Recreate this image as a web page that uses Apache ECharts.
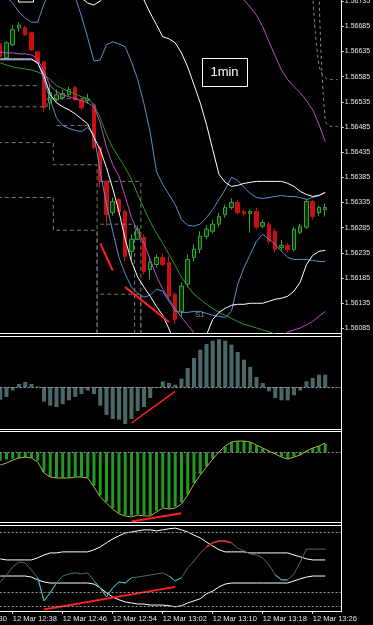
<!DOCTYPE html>
<html>
<head>
<meta charset="utf-8">
<script src="https://cdn.jsdelivr.net/npm/echarts@6/dist/echarts.min.js"></script>
<style>
html,body{margin:0;padding:0;background:#000;overflow:hidden;}
#chart{width:373px;height:625px;}
</style>
</head>
<body>
<div id="chart"></div>
<script>
// ---------- categories (1-minute bars) ----------
const times = [
"12 Mar 12:30","12 Mar 12:31","12 Mar 12:32","12 Mar 12:33","12 Mar 12:34","12 Mar 12:35","12 Mar 12:36","12 Mar 12:37","12 Mar 12:38","12 Mar 12:39",
"12 Mar 12:40","12 Mar 12:41","12 Mar 12:42","12 Mar 12:43","12 Mar 12:44","12 Mar 12:45","12 Mar 12:46","12 Mar 12:47","12 Mar 12:48","12 Mar 12:49",
"12 Mar 12:50","12 Mar 12:51","12 Mar 12:52","12 Mar 12:53","12 Mar 12:54","12 Mar 12:55","12 Mar 12:56","12 Mar 12:57","12 Mar 12:58","12 Mar 12:59",
"12 Mar 13:00","12 Mar 13:01","12 Mar 13:02","12 Mar 13:03","12 Mar 13:04","12 Mar 13:05","12 Mar 13:06","12 Mar 13:07","12 Mar 13:08","12 Mar 13:09",
"12 Mar 13:10","12 Mar 13:11","12 Mar 13:12","12 Mar 13:13","12 Mar 13:14","12 Mar 13:15","12 Mar 13:16","12 Mar 13:17","12 Mar 13:18","12 Mar 13:19",
"12 Mar 13:20","12 Mar 13:21","12 Mar 13:22","12 Mar 13:23","12 Mar 13:24","12 Mar 13:25","12 Mar 13:26","12 Mar 13:27","12 Mar 13:28","12 Mar 13:29",
"12 Mar 13:30"];
const firstBar = "12 Mar 12:36";   // first candle on screen; bars run to 13:28

// ---------- main price panel ----------
const priceTicks = [1.56735,1.56685,1.56635,1.56585,1.56535,1.56485,1.56435,1.56385,1.56335,1.56285,1.56235,1.56185,1.56135,1.56085];
// [open, high, low, close]
const candles = [
[1.56650,1.56654,1.56622,1.56624],[1.56622,1.56655,1.56620,1.56652],[1.56648,1.56687,1.56646,1.56678],[1.56682,1.56693,1.56674,1.56687],
[1.56682,1.56686,1.56666,1.56668],[1.56672,1.56674,1.56636,1.56638],[1.56634,1.56636,1.56610,1.56612],[1.56614,1.56616,1.56515,1.56523],
[1.56533,1.56569,1.56519,1.56553],[1.56539,1.56559,1.56535,1.56549],[1.56543,1.56559,1.56539,1.56551],[1.56549,1.56565,1.56547,1.56559],
[1.56563,1.56567,1.56537,1.56539],[1.56539,1.56541,1.56519,1.56523],[1.56537,1.56551,1.56531,1.56541],[1.56529,1.56533,1.56440,1.56444],
[1.56444,1.56448,1.56365,1.56377],[1.56377,1.56379,1.56288,1.56311],[1.56315,1.56345,1.56309,1.56337],[1.56341,1.56345,1.56313,1.56317],
[1.56317,1.56321,1.56218,1.56228],[1.56238,1.56272,1.56222,1.56262],[1.56262,1.56290,1.56260,1.56282],[1.56266,1.56272,1.56192,1.56198],
[1.56202,1.56228,1.56182,1.56216],[1.56212,1.56232,1.56206,1.56226],[1.56226,1.56234,1.56208,1.56212],[1.56216,1.56228,1.56143,1.56149],
[1.56153,1.56157,1.56093,1.56103],[1.56119,1.56177,1.56107,1.56169],[1.56173,1.56232,1.56167,1.56222],[1.56226,1.56252,1.56218,1.56242],
[1.56242,1.56278,1.56234,1.56268],[1.56268,1.56290,1.56262,1.56282],[1.56278,1.56301,1.56274,1.56292],[1.56292,1.56315,1.56286,1.56307],
[1.56311,1.56331,1.56305,1.56325],[1.56325,1.56343,1.56321,1.56335],[1.56335,1.56341,1.56311,1.56315],[1.56317,1.56321,1.56307,1.56313],
[1.56313,1.56321,1.56275,1.56317],[1.56317,1.56325,1.56282,1.56286],[1.56288,1.56301,1.56284,1.56295],[1.56292,1.56297,1.56252,1.56258],
[1.56278,1.56284,1.56236,1.56242],[1.56246,1.56261,1.56240,1.56250],[1.56250,1.56254,1.56236,1.56242],[1.56242,1.56286,1.56238,1.56282],
[1.56276,1.56293,1.56272,1.56288],[1.56286,1.56341,1.56282,1.56337],[1.56337,1.56341,1.56301,1.56307],[1.56315,1.56329,1.56309,1.56325],
[1.56321,1.56333,1.56307,1.56325]];

const whiteUpper = [1.56796,1.56800,1.56806,1.56812,1.56816,1.56816,1.56812,1.56806,1.56796,1.56787,1.56777,1.56765,1.56753,1.56741,1.56731,1.56727,
1.56735,1.56747,1.56757,1.56765,1.56767,1.56765,1.56753,1.56737,1.56711,1.56688,1.56664,1.56660,1.56652,1.56632,1.56604,1.56569,1.56533,1.56490,
1.56440,1.56391,1.56375,1.56367,1.56369,1.56373,1.56375,1.56377,1.56377,1.56377,1.56377,1.56377,1.56373,1.56367,1.56357,1.56351,1.56347,1.56349,1.56355];
const whiteLower = [1.56620,1.56620,1.56620,1.56620,1.56620,1.56620,1.56612,1.56587,1.56549,1.56533,1.56525,1.56519,1.56511,1.56501,1.56491,1.56464,
1.56440,1.56404,1.56363,1.56317,1.56262,1.56218,1.56187,1.56167,1.56149,1.56129,1.56111,1.56084,1.56054,1.56034,1.56024,1.56028,1.56044,1.56072,
1.56103,1.56117,1.56125,1.56131,1.56133,1.56133,1.56135,1.56135,1.56135,1.56139,1.56143,1.56145,1.56149,1.56159,1.56177,1.56212,1.56230,1.56238,1.56240];
const blueUpper = [1.56753,1.56743,1.56731,1.56713,1.56701,1.56693,1.56693,1.56729,1.56757,1.56777,1.56777,1.56757,1.56743,1.56705,1.56662,1.56616,
1.56618,1.56648,1.56654,1.56650,1.56644,1.56614,1.56579,1.56531,1.56474,1.56396,1.56371,1.56351,1.56331,1.56301,1.56290,1.56288,1.56292,1.56305,
1.56321,1.56341,1.56361,1.56385,1.56379,1.56365,1.56353,1.56345,1.56343,1.56345,1.56347,1.56349,1.56347,1.56347,1.56345,1.56341,1.56345,1.56349,1.56355];
const blueLower = [1.56618,1.56618,1.56618,1.56618,1.56618,1.56618,1.56614,1.56579,1.56539,1.56503,1.56488,1.56482,1.56478,1.56476,1.56484,1.56470,
1.56396,1.56331,1.56278,1.56226,1.56193,1.56167,1.56155,1.56147,1.56151,1.56163,1.56159,1.56139,1.56119,1.56117,1.56117,1.56119,1.56119,1.56115,
1.56111,1.56109,1.56107,1.56119,1.56173,1.56206,1.56232,1.56258,1.56272,1.56262,1.56252,1.56238,1.56226,1.56222,1.56222,1.56222,1.56220,1.56218,1.56218];
const magentaLower = [1.56634,1.56632,1.56632,1.56630,1.56630,1.56628,1.56620,1.56594,1.56567,1.56555,1.56549,1.56545,1.56541,1.56537,1.56533,1.56525,
1.56493,1.56444,1.56410,1.56387,1.56347,1.56305,1.56278,1.56254,1.56222,1.56189,1.56163,1.56143,1.56125,1.56107,1.56092,1.56076,1.56060,1.56048,
1.56038,1.56032,1.56028,1.56026,1.56024,1.56026,1.56030,1.56036,1.56044,1.56052,1.56060,1.56070,1.56078,1.56082,1.56086,1.56092,1.56099,1.56109,1.56119];
const magentaUpper = [["12 Mar 13:12",1.56777],["12 Mar 13:13",1.56761],["12 Mar 13:14",1.56747],["12 Mar 13:15",1.56737],["12 Mar 13:16",1.56723],
["12 Mar 13:17",1.56707],["12 Mar 13:18",1.56684],["12 Mar 13:19",1.56654],["12 Mar 13:20",1.56626],["12 Mar 13:21",1.56598],["12 Mar 13:22",1.56579],
["12 Mar 13:23",1.56565],["12 Mar 13:24",1.56553],["12 Mar 13:25",1.56537],["12 Mar 13:26",1.56519],["12 Mar 13:27",1.56490],["12 Mar 13:28",1.56456]];
const greenMA = [1.56612,1.56608,1.56604,1.56602,1.56600,1.56598,1.56594,1.56588,1.56579,1.56567,1.56561,1.56555,1.56551,1.56545,1.56541,1.56529,
1.56503,1.56470,1.56444,1.56424,1.56404,1.56381,1.56351,1.56323,1.56297,1.56274,1.56254,1.56232,1.56210,1.56187,1.56169,1.56153,1.56143,1.56133,
1.56125,1.56117,1.56111,1.56105,1.56099,1.56093,1.56090,1.56086,1.56082,1.56078,1.56074,1.56070,1.56066,1.56062,1.56058,1.56054,1.56050,1.56046,1.56042];

// dashed price-channel levels
const dashLevels = [
 [["12 Mar 12:30",1.56567],["12 Mar 12:42",1.56567]],
 [["12 Mar 12:30",1.56525],["12 Mar 12:43",1.56525],["12 Mar 12:44",1.56541],["12 Mar 12:50",1.56541]],
 [["12 Mar 12:45",1.56488],["12 Mar 12:50",1.56488]],
 [["12 Mar 12:30",1.56454],["12 Mar 12:44",1.56454],["12 Mar 12:45",1.56410],["12 Mar 12:51",1.56410],["12 Mar 12:52",1.56040]],
 [["12 Mar 12:30",1.56345],["12 Mar 12:44",1.56345],["12 Mar 12:45",1.56280],["12 Mar 12:51",1.56280],["12 Mar 12:52",1.56040]],
 [["12 Mar 12:52",1.56377],["12 Mar 12:58",1.56377],["12 Mar 12:59",1.56040]],
 [["12 Mar 12:52",1.56292],["12 Mar 12:57",1.56292],["12 Mar 12:58",1.56040]],
 [["12 Mar 12:52",1.56153],["12 Mar 12:58",1.56153],["12 Mar 12:59",1.56040]]
];
const dashRight = [
 [["12 Mar 13:26",1.56747],["12 Mar 13:27",1.56608],["12 Mar 13:28",1.56583],["12 Mar 13:29",1.56579],["12 Mar 13:30",1.56579]],
 [["12 Mar 13:27",1.56757],["12 Mar 13:28",1.56499],["12 Mar 13:29",1.56486],["12 Mar 13:30",1.56486]]
];
const trendMain = [
 [["12 Mar 12:52",1.56254],["12 Mar 12:54",1.56200]],
 [["12 Mar 12:56",1.56167],["12 Mar 13:03",1.56098]]
];
const s1Level = 1.56124;
const lastPrice = 1.56325;

// ---------- panel 2 : histogram ----------
const hist2 = [-0.000095,-0.000075,-0.000025,0.0000225,0.0000375,0.0000225,0.000005,-0.00011,-0.00014,-0.00015,-0.000128,-0.0001,-0.000075,
-0.0000525,-0.0000275,-0.0000525,-0.00014,-0.00021,-0.00024,-0.000245,-0.000278,-0.00024,-0.00018,-0.00015,-0.0000825,-0.0000075,0.0000425,
0.00003,0.0000175,0.0000625,0.0001425,0.0002175,0.00028,0.0003225,0.0003475,0.0003575,0.0003475,0.0003175,0.0002625,0.000205,0.00015,0.000075,
0.00003,-0.0000325,-0.0000825,-0.0001,-0.0001,-0.0000625,-0.000025,0.0000425,0.0000675,0.0000925,0.0000925];
const trend2 = [["12 Mar 12:57",-0.00027],["12 Mar 13:04",-0.000033]];
const levels2 = [0.0003,-0.0003];
const labels2 = [[0.000352,"0.000380"],[0.0003,"0.0003"],[0,"0.00"],[-0.00029,"-0.00030"],[-0.000305,"-0.000314"]];

// ---------- panel 3 : histogram + signal ----------
const hist3 = [-0.000060,-0.000050,-0.000045,-0.000040,-0.000035,-0.000040,-0.000060,-0.000140,-0.000175,-0.000182,-0.000182,-0.000180,-0.000175,
-0.000175,-0.000180,-0.000240,-0.000310,-0.000355,-0.000400,-0.000435,-0.000450,-0.000455,-0.000445,-0.000450,-0.000450,-0.000420,-0.000395,
-0.000400,-0.000390,-0.000360,-0.000300,-0.000220,-0.000155,-0.000100,-0.000045,0.000000,0.000040,0.000072,0.000080,0.000080,0.000072,0.000050,
0.000028,0.000008,-0.000012,-0.000030,-0.000045,-0.000030,-0.000018,0.000010,0.000030,0.000045,0.000062];
const signal3 = [-0.000091,-0.000077,-0.000055,-0.000041,-0.000034,-0.000041,-0.000070,-0.000148,-0.000177,-0.000184,-0.000184,-0.000184,-0.000177,
-0.000177,-0.000184,-0.000249,-0.000320,-0.000364,-0.000407,-0.000442,-0.000457,-0.000464,-0.000450,-0.000457,-0.000457,-0.000428,-0.000399,
-0.000407,-0.000399,-0.000371,-0.000306,-0.000227,-0.000163,-0.000105,-0.000048,0.000002,0.000045,0.000074,0.000081,0.000081,0.000074,0.000052,
0.000031,0.000009,-0.000012,-0.000034,-0.000048,-0.000034,-0.000019,0.000009,0.000031,0.000045,0.000067];
const trend3 = [["12 Mar 12:57",-0.000497],["12 Mar 13:05",-0.000437]];
const levels3 = [-0.0004];
const labels3 = [[0.000124,"0.000148"],[0,"0.00"],[-0.0004,"-0.0004"],[-0.000472,"-0.00049"]];

// ---------- panel 4 : oscillator with bands ----------
const osc4 = [-43,-23,0,14,11,-9,-31,-97,-74,-46,-26,-20,-17,-20,-17,-40,-60,-86,-60,-43,-46,-31,-29,-26,-23,-20,-17,-26,-40,-31,-3,17,40,57,69,
74,74,69,54,46,37,34,26,6,-23,-37,-37,-20,14,51,51,51,51];
const upper4 = [23,20,20,20,20,20,26,34,40,40,43,43,43,43,43,49,57,69,80,89,97,100,103,106,106,103,106,109,111,106,100,91,83,71,60,49,43,43,43,
43,40,40,40,40,40,40,40,34,29,23,20,20,20];
const lower4 = [-26,-26,-26,-26,-26,-29,-37,-43,-46,-46,-46,-46,-46,-46,-46,-49,-60,-74,-86,-94,-100,-103,-106,-106,-109,-109,-109,-111,-114,
-111,-103,-97,-91,-77,-69,-57,-49,-46,-46,-46,-46,-46,-46,-46,-46,-46,-46,-40,-34,-29,-26,-26,-26];
const oscCyanRanges = [[6,9],[15,21],[27,29],[44,46]];
const oscRedRanges = [[33,37]];
const trend4 = [["12 Mar 12:43",-122],["12 Mar 13:04",-57]];
const levels4 = [100,-71,-111];
const labels4 = [[100,"100"],[100,"0.00032"],[0,"0.00"],[-71,"-200"],[-111,"-100"],[-111,"-0.00032"]];

// ---------- build ----------
const FONT = 'Liberation Sans, Arial, sans-serif';
const lead = times.indexOf(firstBar);
function pad(arr){
  const out = new Array(lead).fill('-').concat(arr);
  while(out.length < times.length) out.push('-');
  return out;
}
function pick(arr, ranges){
  return arr.map((v,i)=> ranges.some(r=> i>=r[0] && i<=r[1]) ? v : '-');
}
function line(g, data, color, width, extra){
  return Object.assign({type:'line', xAxisIndex:g, yAxisIndex:g, data:data, symbol:'none', silent:true,
    animation:false, lineStyle:{color:color, width:width||1}}, extra||{});
}
function marks(levels, labels){
  const d = [];
  levels.forEach(v=> d.push({yAxis:v, lineStyle:{color:'#9a9a9a', type:[2,2], width:1}, label:{show:false}}));
  labels.forEach(l=> d.push({yAxis:l[0], lineStyle:{opacity:0}, label:{show:true, position:'end', formatter:l[1],
    color:'#e6e6e6', fontSize:7, fontFamily:FONT, distance:4}}));
  return {silent:true, symbol:['none','none'], animation:false, data:d};
}
const gridL = -40.4, gridR = 32.15;
const gridBase = {left:gridL, right:gridR, outerBoundsMode:'none', containLabel:false};
const grids = [
  Object.assign({top:0, height:333}, gridBase),
  Object.assign({top:337, height:92}, gridBase),
  Object.assign({top:432, height:90}, gridBase),
  Object.assign({top:526, height:85}, gridBase)
];
const xAxes = grids.map((g,i)=>({type:'category', gridIndex:i, data:times, boundaryGap:true, show:i===3,
  axisLine:{show:false, onZero:false},
  axisTick:{show:true, alignWithLabel:true, interval:(idx)=>idx%8===0, length:3, lineStyle:{color:'#ddd'}},
  axisLabel:{interval:(idx)=>idx%8===0, align:'left', color:'#e6e6e6', fontSize:7.5, fontFamily:FONT, margin:4},
  splitLine:{show:false}}));
const yBase = {type:'value', position:'right', splitLine:{show:false}, axisLine:{show:false}, axisTick:{show:false}, axisLabel:{show:false}};
const yAxes = [
  Object.assign({}, yBase, {gridIndex:0, min:1.56076, max:1.56737,
    axisTick:{show:true, customValues:priceTicks, length:3, lineStyle:{color:'#ddd'}},
    axisLabel:{show:true, customValues:priceTicks, formatter:(v)=>v.toFixed(5), color:'#e6e6e6', fontSize:7, fontFamily:FONT, margin:4}}),
  Object.assign({}, yBase, {gridIndex:1, min:-0.000315, max:0.000375}),
  Object.assign({}, yBase, {gridIndex:2, min:-0.0005, max:0.000146}),
  Object.assign({}, yBase, {gridIndex:3, min:-126, max:117})
];

const series = [];
// main panel
dashLevels.forEach(d=> series.push(line(0, d, '#7a7a7a', 1, {step:'middle', lineStyle:{color:'#7a7a7a', width:1, type:[4,3]}})));
dashRight.forEach(d=> series.push(line(0, d, '#8a8a8a', 1, {smooth:0.4, lineStyle:{color:'#8a8a8a', width:1, type:[3,3]}})));
series.push(line(0, pad(greenMA), '#2e9a2e', 1));
series.push(line(0, pad(magentaLower), '#c24cc2', 1));
series.push(line(0, magentaUpper, '#c24cc2', 1));
series.push(line(0, pad(blueUpper), '#5b8fcf', 1));
series.push(line(0, pad(blueLower), '#5b8fcf', 1));
series.push(line(0, pad(whiteUpper), '#ffffff', 1));
series.push(line(0, pad(whiteLower), '#ffffff', 1));
series.push({type:'candlestick', xAxisIndex:0, yAxisIndex:0, silent:true, animation:false, barWidth:4,
  data: pad(candles.map(c=>[c[0],c[3],c[2],c[1]])),
  itemStyle:{color:'#0a360a', color0:'#c81010', borderColor:'#2ea82e', borderColor0:'#c81010', borderWidth:1},
  markLine:{silent:true, symbol:['none','none'], animation:false, data:[
    {yAxis:s1Level, lineStyle:{color:'#9a9a9a', type:[7,3,2,3], width:1},
      label:{show:true, position:'end', formatter:s1Level.toFixed(5), color:'#e0e0e0', backgroundColor:'#7c7c7c',
        fontSize:7, fontFamily:FONT, padding:[1,2,1,2], distance:1}},
    {yAxis:lastPrice, lineStyle:{opacity:0},
      label:{show:true, position:'end', formatter:lastPrice.toFixed(5), color:'#000', backgroundColor:'#fff',
        fontSize:7, fontFamily:FONT, padding:[1,2,1,2], distance:1}}
  ]}});
trendMain.forEach(d=> series.push(line(0, d, '#ff2020', 2)));
// panel 2
series.push({type:'bar', xAxisIndex:1, yAxisIndex:1, data:pad(hist2), barWidth:4, silent:true, animation:false,
  itemStyle:{color:'#4a6868'}, markLine:marks(levels2, labels2)});
series.push(line(1, trend2, '#ff2020', 1.5));
// panel 3
series.push({type:'bar', xAxisIndex:2, yAxisIndex:2, data:pad(hist3), barWidth:3, silent:true, animation:false,
  itemStyle:{color:'#229a22'}, markLine:marks(levels3, labels3)});
series.push(line(2, pad(signal3), '#b4b43c', 1));
series.push(line(2, trend3, '#ff2020', 2));
// panel 4
series.push(line(3, pad(upper4), '#ffffff', 1, {markLine:marks(levels4, labels4)}));
series.push(line(3, pad(lower4), '#ffffff', 1));
series.push(line(3, pad(osc4), '#4f6d6d', 1));
series.push(line(3, pad(pick(osc4, oscCyanRanges)), '#36c4d4', 1));
series.push(line(3, pad(pick(osc4, oscRedRanges)), '#e03030', 1.5));
series.push(line(3, trend4, '#ff2020', 2));

const W = '#ffffff';
const hl = (y)=>({type:'line', silent:true, shape:{x1:0, y1:y, x2:341.5, y2:y}, style:{stroke:W, lineWidth:1}});
const graphic = [
  hl(333.5), hl(336.5), hl(429.5), hl(431.5), hl(522.5), hl(525.5), hl(611.5),
  {type:'line', silent:true, shape:{x1:341.5, y1:0, x2:341.5, y2:612}, style:{stroke:W, lineWidth:1}},
  {type:'rect', silent:true, shape:{x:202.5, y:58.5, width:45, height:28}, style:{stroke:W, lineWidth:1, fill:'#000'}},
  {type:'text', silent:true, x:224.5, y:72.5, style:{text:'1min', fill:W, fontSize:13, fontFamily:FONT, align:'center', verticalAlign:'middle'}},
  {type:'text', silent:true, x:195, y:311, style:{text:'S1', fill:'#8c8c8c', fontSize:8, fontFamily:FONT}},
  {type:'rect', silent:true, shape:{x:18.5, y:-8, width:15, height:10}, style:{stroke:W, lineWidth:1, fill:'#000'}}
];

const chart = echarts.init(document.getElementById('chart'));
chart.setOption({
  backgroundColor:'#000000',
  animation:false,
  grid:grids,
  xAxis:xAxes,
  yAxis:yAxes,
  series:series,
  graphic:graphic
});
</script>
</body>
</html>
